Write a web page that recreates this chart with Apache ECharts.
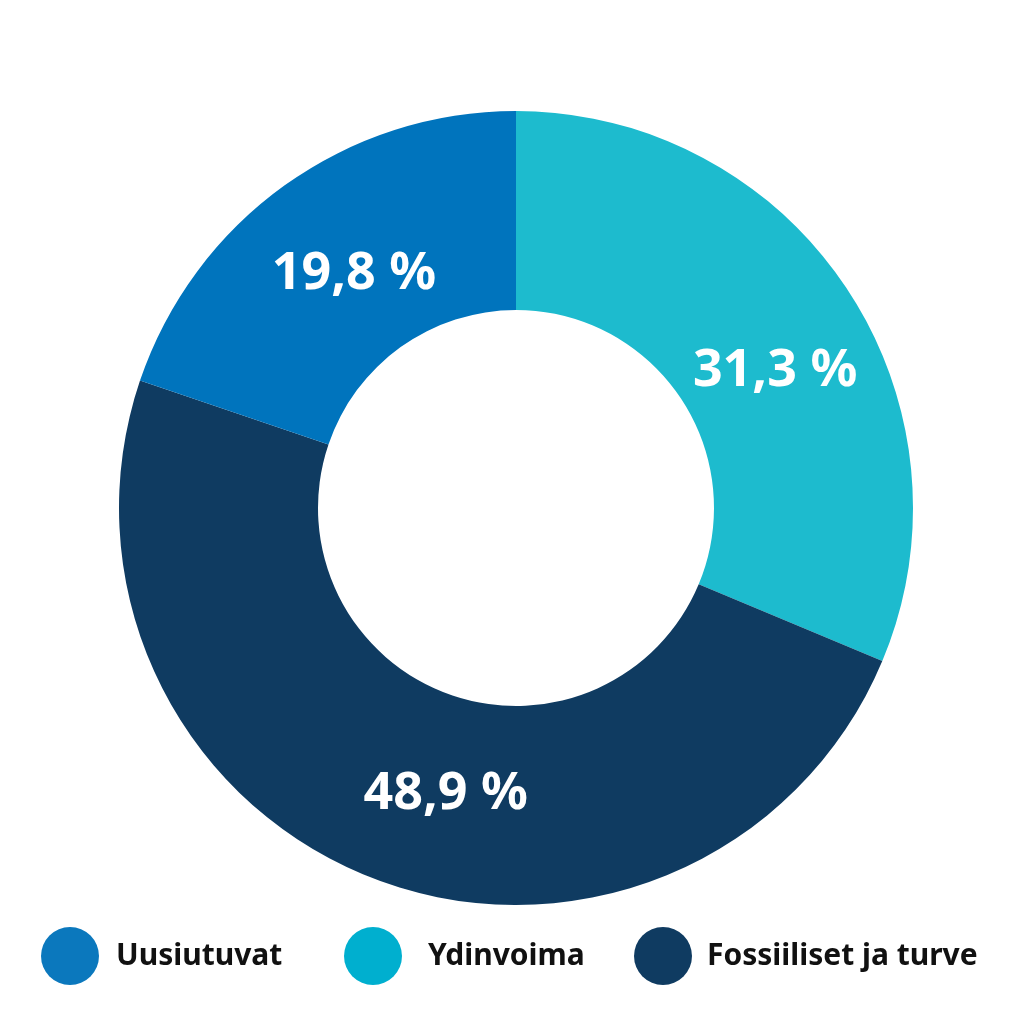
<!DOCTYPE html>
<html>
<head>
<meta charset="utf-8">
<script src="https://cdn.jsdelivr.net/npm/echarts@6/dist/echarts.min.js"></script>
<style>
  html, body { margin: 0; padding: 0; background: #fff; }
  #chart { width: 1024px; height: 1024px; }
</style>
</head>
<body>
<div id="chart"></div>
<script>
  // data in drawing order (clockwise from top)
  const names = ['Ydinvoima', 'Fossiiliset ja turve', 'Uusiutuvat']
  const values = [31.3, 48.9, 19.8]
  const sliceColors = ['#1DBBCE', '#0F3B61', '#0074BD']
  // small nudges so labels sit where the original has them
  const labelOffsets = [[9, 30], [36, 5], [13, 10]]
  // legend order and icon colours
  const legendNames = ['Uusiutuvat', 'Ydinvoima', 'Fossiiliset ja turve']
  const legendColors = ['#0B78BD', '#00AFCF', '#0F3B61']
  const legendLeft = [41, 344, 634]
  const legendTextGap = [12, 21, 10]

  const font = '"Noto Sans", Roboto, sans-serif'
  const myChart = echarts.init(document.getElementById('chart'))

  const legends = legendNames.map((n, i) => ({
    left: legendLeft[i],
    top: 927,
    padding: 0,
    orient: 'horizontal',
    icon: 'circle',
    itemWidth: 58,
    itemHeight: 58,
    selectedMode: false,
    data: [{ name: n, itemStyle: { color: legendColors[i] } }],
    textStyle: {
      color: '#111',
      fontSize: 30,
      fontWeight: 'bold',
      fontFamily: font,
      padding: [6, 0, 0, legendTextGap[i]]
    }
  }))

  myChart.setOption({
    animation: false,
    legend: legends,
    series: [{
      type: 'pie',
      center: [516, 508],
      radius: [198, 397],
      startAngle: 90,
      clockwise: true,
      avoidLabelOverlap: false,
      label: {
        show: true,
        position: 'inside',
        color: '#fff',
        fontSize: 52,
        fontWeight: 'bold',
        fontFamily: font,
        formatter: p => String(p.value).replace('.', ',') + ' %'
      },
      labelLine: { show: false },
      emphasis: { disabled: true },
      data: names.map((n, i) => ({
        name: n,
        value: values[i],
        itemStyle: { color: sliceColors[i] },
        label: { offset: labelOffsets[i] }
      }))
    }]
  })
</script>
</body>
</html>
